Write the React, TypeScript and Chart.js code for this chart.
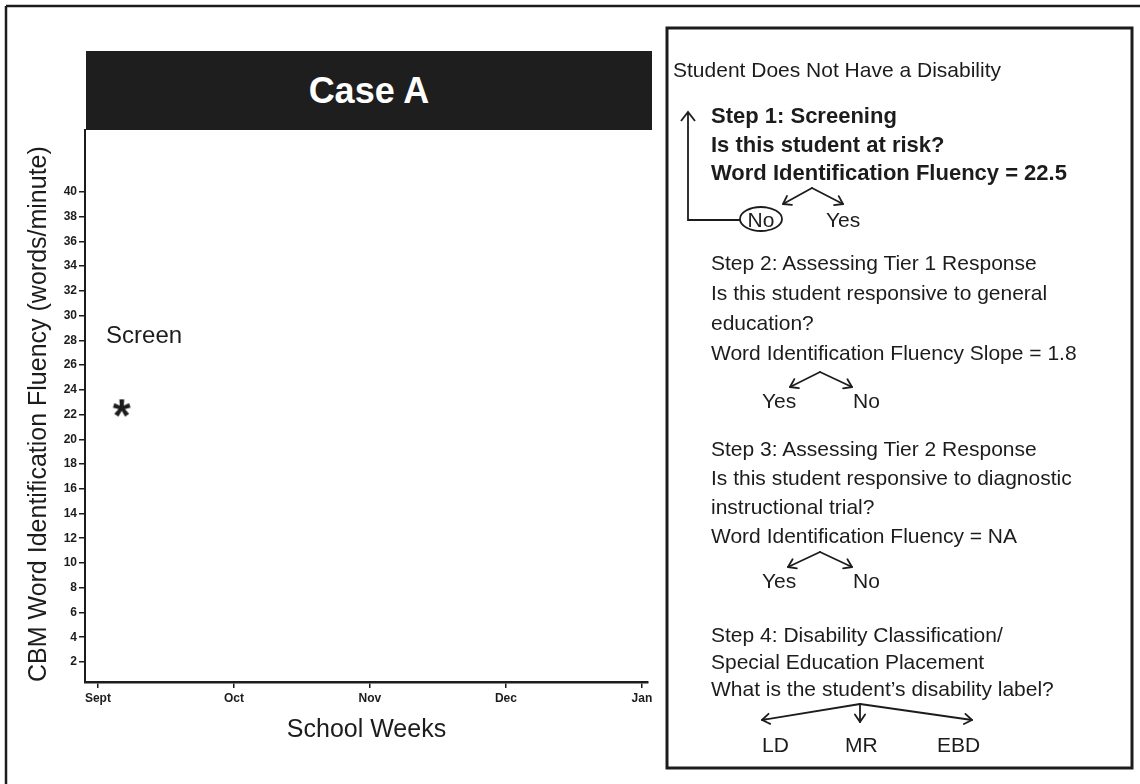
import React, { useEffect, useRef } from 'react';
import { Chart, registerables } from 'chart.js';

Chart.register(...registerables);

// ---- data ----
const weeks = [0.7];
const fluency = [22.5];
const xTickWeeks = [0, 4, 8, 12, 16];
const xTickLabels = ['Sept', 'Oct', 'Nov', 'Dec', 'Jan'];
const yTicks = [2, 4, 6, 8, 10, 12, 14, 16, 18, 20, 22, 24, 26, 28, 30, 32, 34, 36, 38, 40];
const screenLabel = 'Screen';
const screenAtWeek = 0.24;
const screenAtValue = 28.3;

const FONT = '"Liberation Sans", Arial, Helvetica, sans-serif';
const INK = '#1c1c1c';

function makeStar(): HTMLCanvasElement {
  const c = document.createElement('canvas');
  c.width = 32;
  c.height = 32;
  const g = c.getContext('2d')!;
  g.fillStyle = INK;
  g.font = `bold 46px ${FONT}`;
  g.textAlign = 'center';
  g.textBaseline = 'alphabetic';
  const m = g.measureText('*');
  const base = 16 + (m.actualBoundingBoxAscent - m.actualBoundingBoxDescent) / 2;
  g.fillText('*', 16, base);
  return c;
}

const screenPlugin = {
  id: 'screenLabel',
  afterDatasetsDraw(chart: any) {
    const { ctx, scales } = chart;
    const x = scales.x.getPixelForValue(screenAtWeek);
    const y = scales.y.getPixelForValue(screenAtValue);
    ctx.save();
    ctx.fillStyle = INK;
    ctx.font = `24px ${FONT}`;
    ctx.textAlign = 'left';
    ctx.textBaseline = 'middle';
    ctx.fillText(screenLabel, x, y);
    ctx.restore();
  },
};

function CaseChart() {
  const ref = useRef<HTMLCanvasElement | null>(null);
  useEffect(() => {
    if (!ref.current) return;
    const star = makeStar();
    const chart = new Chart(ref.current, {
      type: 'scatter',
      data: {
        datasets: [
          {
            label: 'Screen',
            data: weeks.map((w, i) => ({ x: w, y: fluency[i] })),
            pointStyle: star as any,
            pointRadius: 10,
            backgroundColor: INK,
            borderColor: INK,
          },
        ],
      },
      options: {
        animation: false,
        responsive: false,
        maintainAspectRatio: false,
        layout: { padding: { top: 130, left: 0, right: 12, bottom: 0 } },
        plugins: { legend: { display: false }, tooltip: { enabled: false }, title: { display: false } },
        scales: {
          x: {
            type: 'linear',
            min: -0.38,
            max: 16.18,
            afterBuildTicks: (s: any) => {
              s.ticks = xTickWeeks.map((v) => ({ value: v }));
            },
            afterFit: (s: any) => {
              s.height = 102;
            },
            ticks: {
              autoSkip: false,
              maxRotation: 0,
              padding: 3,
              color: INK,
              font: { family: FONT, size: 12, weight: 'bold' },
              callback: (v: any) => xTickLabels[xTickWeeks.indexOf(Number(v))] ?? '',
            },
            grid: { drawOnChartArea: false, drawTicks: true, tickLength: 6, color: INK, lineWidth: 1.5 },
            border: { display: true, color: INK, width: 2.5 },
            title: {
              display: true,
              text: 'School Weeks',
              color: INK,
              font: { family: FONT, size: 25 },
              padding: { top: 0, bottom: 39 },
            },
          },
          y: {
            type: 'linear',
            min: 0.38,
            max: 45,
            afterBuildTicks: (s: any) => {
              s.ticks = yTicks.map((v) => ({ value: v }));
            },
            afterFit: (s: any) => {
              s.width = 85;
            },
            ticks: {
              autoSkip: false,
              padding: 2,
              color: INK,
              font: { family: FONT, size: 12, weight: 'bold' },
            },
            grid: { drawOnChartArea: false, drawTicks: true, tickLength: 6, color: INK, lineWidth: 1.5 },
            border: { display: true, color: INK, width: 2 },
            title: {
              display: true,
              text: 'CBM Word Identification Fluency (words/minute)',
              align: 'start',
              color: INK,
              font: { family: FONT, size: 25 },
              padding: { top: 24, bottom: 0 },
            },
          },
        },
      },
      plugins: [screenPlugin],
    } as any);
    return () => chart.destroy();
  }, []);
  return (
    <canvas
      ref={ref}
      width={660}
      height={784}
      style={{ position: 'absolute', left: 0, top: 0, width: 660, height: 784 }}
    />
  );
}

type Pt = [number, number];

function Arrow({ from, to }: { from: Pt; to: Pt }) {
  const [x1, y1] = from;
  const [x2, y2] = to;
  const a = Math.atan2(y2 - y1, x2 - x1);
  const L = 9;
  const s = 0.6;
  const h1: Pt = [x2 - L * Math.cos(a - s), y2 - L * Math.sin(a - s)];
  const h2: Pt = [x2 - L * Math.cos(a + s), y2 - L * Math.sin(a + s)];
  return (
    <g stroke={INK} strokeWidth={1.8} fill="none" strokeLinecap="round" strokeLinejoin="round">
      <line x1={x1} y1={y1} x2={x2} y2={y2} />
      <polyline points={`${h1[0]},${h1[1]} ${x2},${y2} ${h2[0]},${h2[1]}`} />
    </g>
  );
}

function Fork({ apex, left, right }: { apex: Pt; left: Pt; right: Pt }) {
  return (
    <g>
      <Arrow from={apex} to={left} />
      <Arrow from={apex} to={right} />
    </g>
  );
}

function T({
  x,
  y,
  children,
  bold,
  anchor,
}: {
  x: number;
  y: number;
  children: any;
  bold?: boolean;
  anchor?: string;
}) {
  return (
    <text
      x={x}
      y={y}
      fill={INK}
      fontFamily={FONT}
      fontSize={bold ? 22 : 21}
      fontWeight={bold ? 'bold' : 'normal'}
      textAnchor={anchor || 'start'}
    >
      {children}
    </text>
  );
}

function Panel() {
  const X = 711;
  return (
    <svg width={1140} height={784} style={{ position: 'absolute', left: 0, top: 0 }}>
      {/* outer frame */}
      <line x1={6} y1={6} x2={1140} y2={6} stroke={INK} strokeWidth={2.5} />
      <line x1={6} y1={6} x2={6} y2={784} stroke={INK} strokeWidth={2.5} />
      {/* right box */}
      <rect x={667} y={28} width={465} height={740} fill="none" stroke={INK} strokeWidth={3} />

      <T x={673} y={77}>Student Does Not Have a Disability</T>

      {/* step 1 */}
      <T x={X} y={123} bold>Step 1: Screening</T>
      <T x={X} y={152} bold>Is this student at risk?</T>
      <T x={X} y={180} bold>Word Identification Fluency = 22.5</T>
      <Fork apex={[812, 188]} left={[783, 204]} right={[843, 204]} />
      <ellipse cx={761} cy={219} rx={21} ry={12} fill="none" stroke={INK} strokeWidth={1.8} />
      <T x={761} y={227} anchor="middle">No</T>
      <T x={826} y={227}>Yes</T>
      <polyline points="740,220 688,220 688,112" fill="none" stroke={INK} strokeWidth={1.8} />
      <polyline points="681,121 688,112 695,121" fill="none" stroke={INK} strokeWidth={1.8} />

      {/* step 2 */}
      <T x={X} y={270}>Step 2: Assessing Tier 1 Response</T>
      <T x={X} y={300}>Is this student responsive to general</T>
      <T x={X} y={330}>education?</T>
      <T x={X} y={360}>Word Identification Fluency Slope = 1.8</T>
      <Fork apex={[820, 372]} left={[790, 387]} right={[852, 387]} />
      <T x={762} y={408}>Yes</T>
      <T x={853} y={408}>No</T>

      {/* step 3 */}
      <T x={X} y={456}>Step 3: Assessing Tier 2 Response</T>
      <T x={X} y={485}>Is this student responsive to diagnostic</T>
      <T x={X} y={514}>instructional trial?</T>
      <T x={X} y={543}>Word Identification Fluency = NA</T>
      <Fork apex={[820, 552]} left={[788, 567]} right={[852, 567]} />
      <T x={762} y={588}>Yes</T>
      <T x={853} y={588}>No</T>

      {/* step 4 */}
      <T x={X} y={642}>Step 4: Disability Classification/</T>
      <T x={X} y={669}>Special Education Placement</T>
      <T x={X} y={696}>What is the student’s disability label?</T>
      <Fork apex={[860, 704]} left={[762, 720]} right={[972, 720]} />
      <Arrow from={[860, 704]} to={[860, 722]} />
      <T x={762} y={752}>LD</T>
      <T x={845} y={752}>MR</T>
      <T x={937} y={752}>EBD</T>
    </svg>
  );
}

export default function App() {
  return (
    <div
      style={{
        position: 'absolute',
        left: 0,
        top: 0,
        width: 1140,
        height: 784,
        background: '#fff',
        overflow: 'hidden',
        fontFamily: FONT,
      }}
    >
      <CaseChart />
      <div
        style={{
          position: 'absolute',
          left: 86,
          top: 51,
          width: 566,
          height: 79,
          background: '#1e1e1e',
          color: '#fff',
          display: 'flex',
          alignItems: 'center',
          justifyContent: 'center',
          fontFamily: FONT,
          fontWeight: 'bold',
          fontSize: 36,
        }}
      >
        Case A
      </div>
      <Panel />
    </div>
  );
}
